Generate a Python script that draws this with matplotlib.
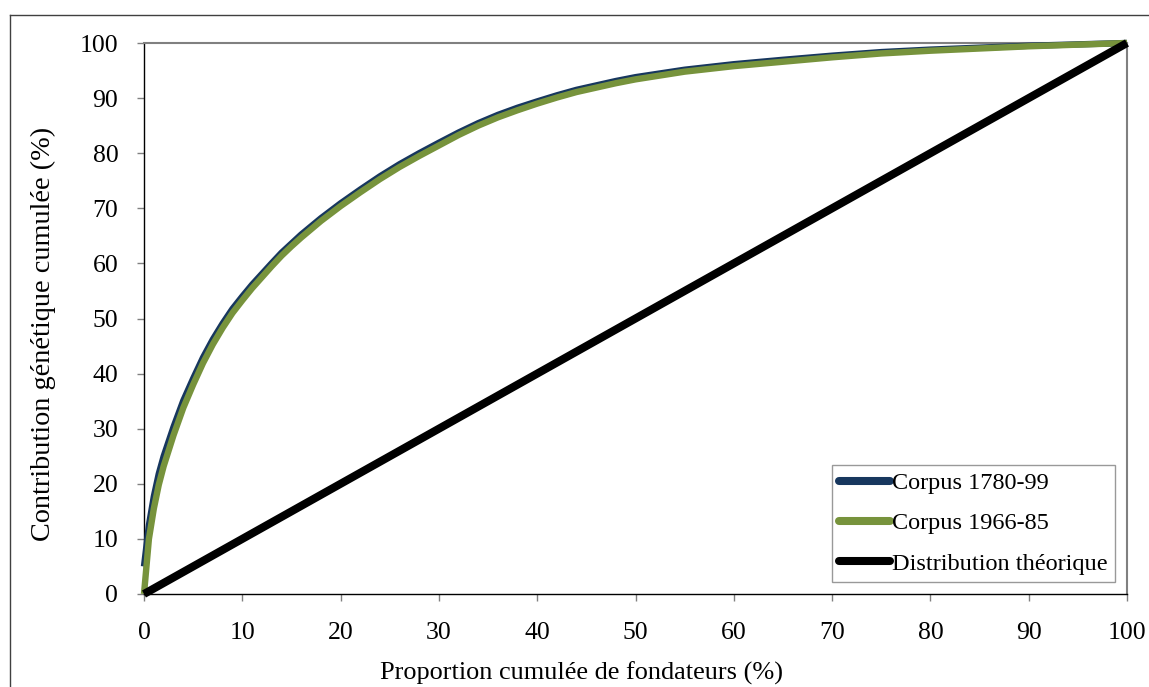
#!/usr/bin/env python3

import matplotlib
matplotlib.use('Agg')
from matplotlib import pyplot as plt
from matplotlib.lines import Line2D

plt.rcParams['font.family'] = ['Liberation Serif', 'DejaVu Serif']

# Cumulative founder proportion (%) vs cumulative genetic contribution (%)
X_PTS = [0, 0.5, 1, 1.5, 2, 3, 4, 5, 6, 7, 8, 9, 10, 11, 12, 13, 14, 15, 16, 18, 20, 22, 24, 26, 28,
         30, 32, 34, 36, 38, 40, 42, 44, 46, 48, 50, 55, 60, 65, 70, 75, 80, 85, 90, 95, 100]
Y_1966 = [0, 10, 15.5, 19.8, 23.2, 28.8, 33.8, 38, 41.9, 45.3, 48.3, 51, 53.3, 55.5, 57.5, 59.5, 61.4, 63.1,
          64.7, 67.7, 70.4, 72.9, 75.3, 77.5, 79.5, 81.4, 83.3, 85.0, 86.5, 87.8, 89.0, 90.1, 91.1, 91.9,
          92.7, 93.4, 94.8, 95.8, 96.6, 97.4, 98.1, 98.6, 99.0, 99.4, 99.7, 100]
Y_1780 = [5, 12.5, 17.7, 21.8, 25, 30.3, 35.1, 39.1, 42.9, 46.2, 49.1, 51.75, 54, 56.15, 58.1, 60.05, 61.95,
          63.6, 65.25, 68.2, 70.9, 73.4, 75.8, 78, 80, 81.9, 83.75, 85.45, 86.95, 88.25, 89.4, 90.5, 91.5,
          92.3, 93.1, 93.8, 95.15, 96.15, 96.95, 97.7, 98.35, 98.8, 99.15, 99.5, 99.75, 100]

X_THEO = [0, 100]
Y_THEO = [0, 100]

LABELS = ['Corpus 1780-99', 'Corpus 1966-85', 'Distribution théorique']
TICKS = list(range(0, 101, 10))

W, H = 1149, 687
fig = plt.figure(figsize=(W / 100, H / 100), dpi=100)
ax = fig.add_axes([144 / W, 1 - 594 / H, (1127 - 144) / W, (594 - 43) / H])

ax.plot(X_PTS, Y_1780, color='#17375E', lw=4.6, label=LABELS[0], clip_on=False, solid_capstyle='butt',
        solid_joinstyle='round', zorder=3)
ax.plot(X_PTS, Y_1966, color='#77933C', lw=4.6, label=LABELS[1], clip_on=False, solid_capstyle='butt',
        solid_joinstyle='round', zorder=4)
ax.plot(X_THEO, Y_THEO, color='black', lw=5.8, label=LABELS[2], clip_on=False, solid_capstyle='butt', zorder=5)

ax.set_xlim(0, 100)
ax.set_ylim(0, 100)
ax.set_xticks(TICKS)
ax.set_yticks(TICKS)
ax.tick_params(axis='both', direction='out', length=5, width=1, color='#808080', labelsize=18.5)
ax.tick_params(axis='x', pad=15)
ax.tick_params(axis='y', pad=13.5)

for side in ['left', 'bottom']:
  ax.spines[side].set_color('black')
  ax.spines[side].set_linewidth(1.0)
for side in ['top', 'right']:
  ax.spines[side].set_color('#808080')
  ax.spines[side].set_linewidth(1.5)

fig.text(43 / W, 1 - 334 / H, 'Contribution génétique cumulée (%)', fontsize=20.3, rotation=90,
         ha='center', va='center')
fig.text(582 / W, 1 - 680 / H, 'Proportion cumulée de fondateurs (%)', fontsize=18.9, ha='center', va='baseline')

leg = ax.legend(loc='lower right', bbox_to_anchor=(1115 / W, 1 - 582 / H), bbox_transform=fig.transFigure,
                fontsize=17.5, frameon=True, fancybox=False, handlelength=2.1, handletextpad=0.08,
                borderpad=0.3, labelspacing=0.75, borderaxespad=0)
leg.get_frame().set_edgecolor('#808080')
leg.get_frame().set_linewidth(1.0)
for h in leg.get_lines():
  h.set_linewidth(5.8)
  h.set_solid_capstyle('round')

# outer chart frame
fig.add_artist(Line2D([10 / W, 10 / W], [-0.05, 1 - 15 / H], transform=fig.transFigure, color='#404040', lw=1))
fig.add_artist(Line2D([10 / W, 1.05], [1 - 15 / H, 1 - 15 / H], transform=fig.transFigure, color='#404040', lw=1))

fig.savefig('out.png', dpi=100)
